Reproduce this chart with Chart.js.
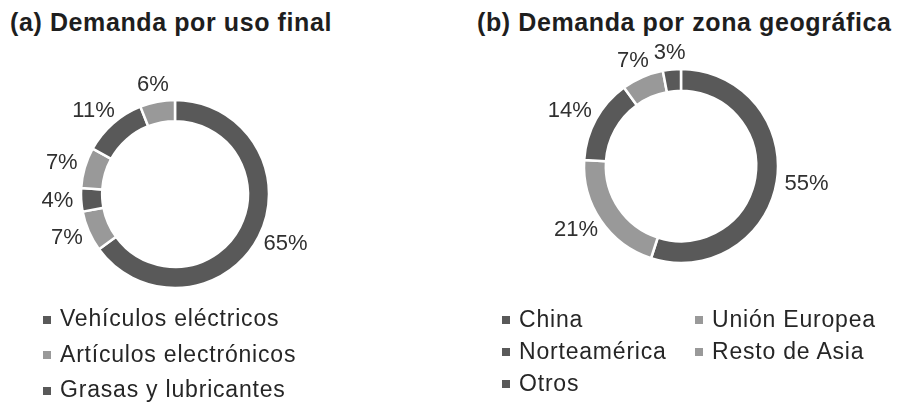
<!DOCTYPE html>
<html>
<head>
<meta charset="utf-8">
<script src="https://cdn.jsdelivr.net/npm/chart.js@4/dist/chart.umd.min.js"></script>
<style>
  body { margin: 0; background: #fff; width: 899px; height: 403px; position: relative; overflow: hidden;
         font-family: "Liberation Sans", Arial, sans-serif; }
  .title { position: absolute; font-weight: bold; font-size: 25px; letter-spacing: 0.6px; color: #1e1e1e; white-space: nowrap; }
  canvas { position: absolute; }
  .legend { position: absolute; font-size: 23px; letter-spacing: 0.8px; color: #262626; white-space: nowrap; }
  .legend .item { display: flex; align-items: center; }
  .legend .box { width: 8px; height: 8px; margin-right: 9px; margin-top: 2px; }
</style>
</head>
<body>
<div class="title" style="left:10px; top:8px;">(a) Demanda por uso final</div>
<div class="title" style="left:477px; top:8px;">(b) Demanda por zona geográfica</div>
<canvas id="chartA" width="350" height="280" style="left:0px; top:54px;"></canvas>
<canvas id="chartB" width="350" height="280" style="left:506px; top:26px;"></canvas>
<div class="legend" id="legendA" style="left:43px; top:301px; line-height:35.5px;"></div>
<div class="legend" id="legendB" style="left:502px; top:303px; line-height:32px; display:grid; grid-template-columns:193px 200px;"></div>

<script>
// (a) demand by end use; the last three names are cut off in the picture
const usoLabels = ["Vehículos eléctricos", "Artículos electrónicos", "Grasas y lubricantes", "", "", ""];
const usoValues = [65, 7, 4, 7, 11, 6];

// (b) demand by region
const zonaLabels = ["China", "Unión Europea", "Norteamérica", "Resto de Asia", "Otros"];
const zonaValues = [55, 21, 14, 7, 3];

const DARK = "#595959";
const LIGHT = "#999999";
const usoColors = [DARK, LIGHT, DARK, LIGHT, DARK, LIGHT];
const zonaColors = [DARK, LIGHT, DARK, LIGHT, DARK];

// percent labels outside the ring
const outsideLabels = {
  id: "outsideLabels",
  afterDatasetsDraw(chart) {
    const ctx = chart.ctx;
    const meta = chart.getDatasetMeta(0);
    const data = chart.data.datasets[0].data;
    ctx.save();
    ctx.font = "22px 'Liberation Sans', Arial, sans-serif";
    ctx.fillStyle = "#303030";
    ctx.textAlign = "center";
    ctx.textBaseline = "middle";
    meta.data.forEach((arc, i) => {
      const p = arc.getProps(["x", "y", "startAngle", "endAngle", "outerRadius"], true);
      const mid = (p.startAngle + p.endAngle) / 2;
      const txt = data[i] + "%";
      const w = ctx.measureText(txt).width;
      const h = 18;
      const r = p.outerRadius + 8;
      const x = p.x + Math.cos(mid) * r + Math.cos(mid) * w / 2;
      const y = p.y + Math.sin(mid) * r + Math.sin(mid) * h / 2;
      ctx.fillText(txt, x, y);
    });
    ctx.restore();
  }
};

function makeDoughnut(id, labels, values, colors, radius, cutout) {
  return new Chart(document.getElementById(id), {
    type: "doughnut",
    data: {
      labels: labels,
      datasets: [{
        data: values,
        backgroundColor: colors,
        borderColor: "#ffffff",
        borderWidth: 2.5
      }]
    },
    options: {
      responsive: false,
      animation: false,
      radius: radius,
      cutout: cutout,
      events: [],
      plugins: {
        legend: { display: false },
        tooltip: { enabled: false }
      }
    },
    plugins: [outsideLabels]
  });
}

function makeLegend(id, labels, colors) {
  const el = document.getElementById(id);
  labels.forEach((lab, i) => {
    if (!lab) return;
    const item = document.createElement("div");
    item.className = "item";
    const box = document.createElement("span");
    box.className = "box";
    box.style.background = colors[i];
    item.appendChild(box);
    item.appendChild(document.createTextNode(lab));
    el.appendChild(item);
  });
}

makeDoughnut("chartA", usoLabels, usoValues, usoColors, 94, "77.5%");
makeDoughnut("chartB", zonaLabels, zonaValues, zonaColors, 97, "77.5%");
makeLegend("legendA", usoLabels, usoColors);
makeLegend("legendB", zonaLabels, zonaColors);
</script>
</body>
</html>
